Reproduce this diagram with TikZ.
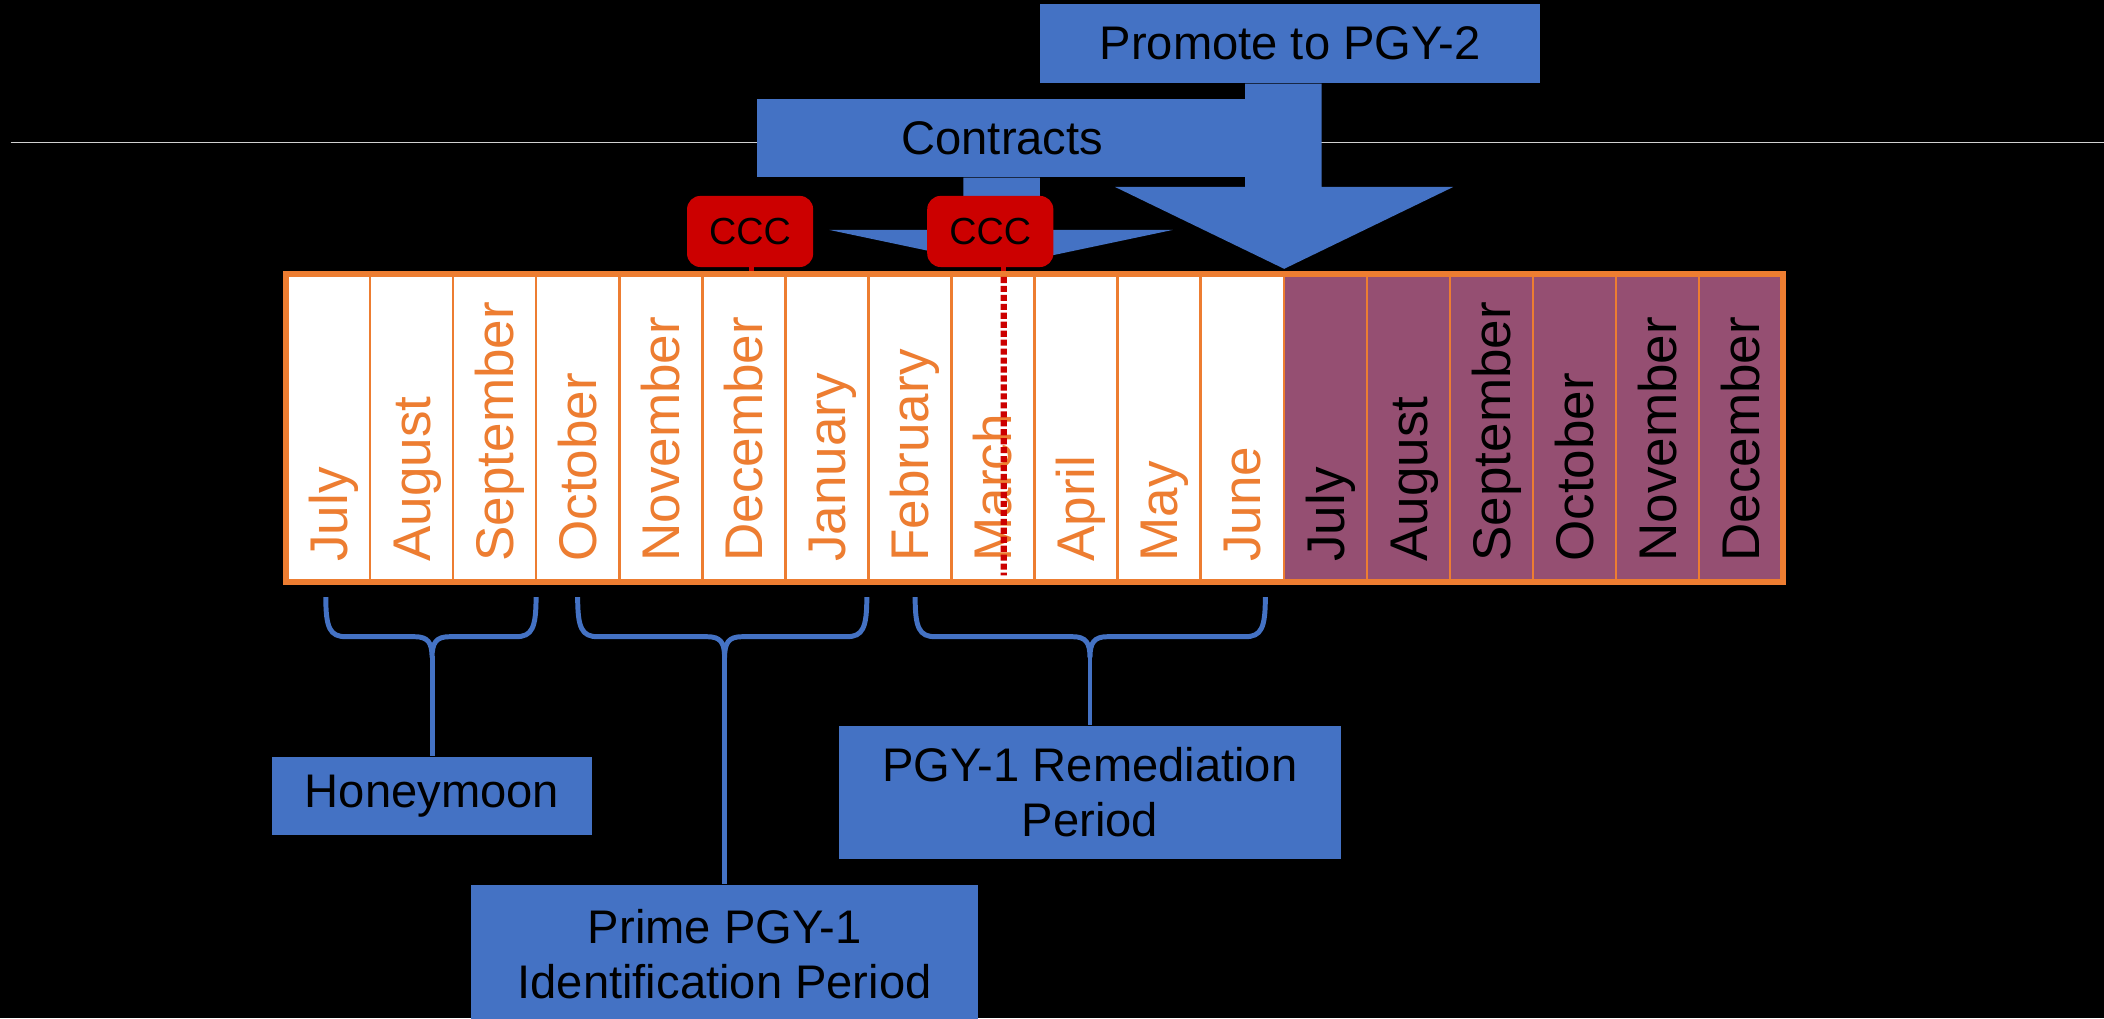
\documentclass[tikz,border=0pt]{standalone}
\usepackage{fontspec}
\setmainfont{Liberation Sans}
\usetikzlibrary{positioning,calc}
\definecolor{boxblue}{RGB}{68,114,196}
\definecolor{barorange}{RGB}{237,125,49}
\definecolor{pgytwo}{RGB}{149,79,114}
\definecolor{cccred}{RGB}{204,0,0}
\tikzset{bluebox/.style={fill=boxblue,inner sep=0pt,align=center,text=black,
        font=\fontsize{20}{23.3}\selectfont},
        cccbox/.style={fill=cccred,rounded corners=0.2cm,minimum width=1.88cm,
        minimum height=1.06cm,inner sep=0pt,font=\fontsize{16}{19}\selectfont},
        monthcell/.style={draw=barorange,line width=1pt,minimum width=1.2378cm,
        minimum height=4.56cm,inner sep=0pt},
        monthname/.style={rotate=90,anchor=base west,inner sep=0pt,
        font=\fontsize{22.5}{27}\selectfont},
        bracket/.style={draw=boxblue,line width=2.1pt},
        marchline/.style={draw=cccred,line width=2.6pt,dash pattern=on 2.6pt off 1.2pt}}
\newcommand{\spanbrace}[4]{%
  \draw[bracket] (#1,445) .. controls (#1,468) and (#1+3,474.5) .. (#1+15,474.5)
     -- (#3-13,474.5) .. controls (#3-3,474.5) and (#3,479) .. (#3,490)
     .. controls (#3,479) and (#3+3,474.5) .. (#3+13,474.5)
     -- (#2-15,474.5) .. controls (#2-3,474.5) and (#2,468) .. (#2,445);
  \draw[bracket] (#3,489) -- (#4.north);
}
\begin{document}
\begin{tikzpicture}[x=0.02cm,y=-0.02cm]
\fill[black] (0,0) rectangle (1568,759);
\useasboundingbox (0,0) rectangle (1568,759);
\clip (0,0) rectangle (1568,759);

\draw[white!82!black,line width=0.6pt] (8,106) -- (1568,106);

% contracts
\node[bluebox,minimum width=7.32cm,minimum height=1.16cm] (contracts) at (747,103) {Contracts};
\fill[boxblue] ($(contracts.south)+(-29,0)$) -- ++(0,39) -- ++(-100,0)
   -- ++(128,27) -- ++(128,-27) -- ++(-99,0) -- ++(0,-39) -- cycle;

% promote
\node[bluebox,minimum width=7.46cm,minimum height=1.18cm] (promote) at (961.5,32.5) {Promote to PGY-2};
\fill[boxblue] ($(promote.south)+(-33.5,0)$) -- ++(0,77) -- ++(-97,0)
   -- ++(126,61) -- ++(126,-61) -- ++(-98,0) -- ++(0,-77) -- cycle;

\node[cccbox] (ccc1) at (559,172.5) {CCC};
\node[cccbox] (ccc2) at (738,172.5) {CCC};
\fill[cccred] ($(ccc1.south)+(-1,-1)$) rectangle ++(4,4);
\fill[cccred] ($(ccc2.south)+(8,-1)$) rectangle ++(4,4);

% months
\foreach \mname [count=\i] in {July,August,September,October,November,December,
    January,February,March,April,May,June,July,August,September,October,November,December}{
  \ifnum\i>12 \def\cellfill{pgytwo}\def\namecol{black}\else
    \def\cellfill{white}\def\namecol{barorange}\fi
  \node[monthcell,fill=\cellfill] (m\i) at (214+61.89*\i-30.945,319) {};
  \node[monthname,text=\namecol] at ([xshift=0.28cm,yshift=0.3cm]m\i.south) {\mname};
}
\draw[barorange,line width=2.4pt] (m1.north west) rectangle (m18.south east);
\draw[marchline] ($(ccc2.south)+(10,7)$) -- ($(m9.south)+(8,-5)$);

% periods
\node[bluebox,minimum width=4.76cm,minimum height=1.16cm] (honey) at (322,593) {Honeymoon};
\node[bluebox,minimum width=7.47cm,minimum height=1.99cm] (remed) at (812.3,590.6)
   {PGY-1 Remediation\\Period};
\node[bluebox,minimum width=7.56cm,minimum height=2.06cm] (prime) at (540,711)
   {Prime PGY-1\\Identification Period};

\spanbrace{242.8}{399.5}{322}{honey}
\spanbrace{430.5}{646}{540}{prime}
\spanbrace{682}{943}{812.3}{remed}
\end{tikzpicture}
\end{document}
